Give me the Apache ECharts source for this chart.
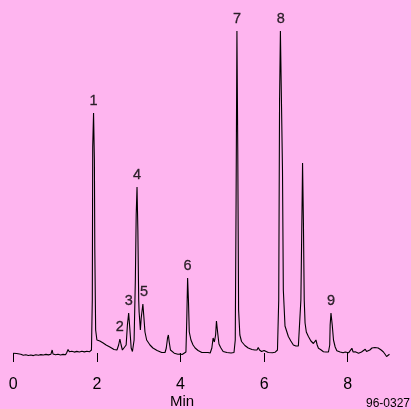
<!DOCTYPE html>
<html>
<head>
<meta charset="utf-8">
<script src="https://cdn.jsdelivr.net/npm/echarts@6/dist/echarts.min.js"></script>
<style>
html,body{margin:0;padding:0;background:#feb5ef;}
#c{width:411px;height:409px;}
</style>
</head>
<body>
<div id="c"></div>
<script>
// Retention time (min)
const times = [
0.00,0.04,0.08,0.12,0.18,0.24,0.30,0.36,0.42,0.48,0.54,0.60,0.66,0.72,0.78,0.84,0.90,0.93,0.95,1.01,
1.07,1.13,1.19,1.25,1.28,1.31,1.34,1.40,1.46,1.52,1.58,1.64,1.70,1.76,1.82,1.86,1.87,
1.89,1.90,1.92,1.94,1.95,1.97,2.00,2.07,2.15,2.22,2.31,2.41,2.48,2.52,2.55,2.58,2.61,2.65,2.70,2.73,2.76,
2.79,2.82,2.85,2.89,2.92,2.94,2.96,2.98,3.00,3.01,3.04,3.06,3.10,3.12,3.15,3.19,3.27,3.34,3.44,3.55,3.63,
3.66,3.69,3.71,3.73,3.76,
3.80,3.85,3.89,3.94,3.99,4.04,4.08,4.13,
4.15,4.17,4.19,4.21,4.25,4.30,4.35,4.42,4.51,4.59,4.63,4.66,4.71,4.75,4.78,4.81,4.84,4.86,4.89,4.92,4.96,
5.02,5.11,5.21,5.28,5.31,5.33,5.35,5.37,5.39,5.42,5.46,5.54,5.62,5.71,5.78,5.83,5.86,5.89,
5.94,6.00,6.05,6.10,6.14,6.20,6.26,6.32,
6.35,6.37,6.39,6.42,6.44,6.46,6.50,6.58,6.64,6.70,6.76,6.82,6.86,6.88,6.91,6.92,6.94,6.96,6.98,7.01,7.06,
7.12,7.18,7.22,7.24,7.27,7.30,7.35,7.42,7.48,7.54,7.57,7.58,7.60,7.63,7.66,7.70,7.74,
7.78,7.82,7.86,7.89,7.94,7.98,8.02,8.06,8.10,8.13,8.18,8.22,8.26,8.29,8.33,8.37,8.42,8.45,8.49,
8.53,8.58,8.65,8.73,8.80,8.85,8.89,8.93,8.97,9.00
];
// Detector signal (arbitrary units, baseline ~0)
const signal = [
-0.3,-0.8,-0.5,-1.5,-1.2,-2.2,-1.8,-2.5,-2.0,-2.6,-1.8,-2.3,-1.6,-2.0,-1.4,-1.9,-1.2,3,-1.0,-1.8,
-1.3,-2.0,-1.4,-1.8,0.5,3.5,1.2,1.8,0.9,1.6,1.0,1.8,1.1,1.7,1.2,2.0,3,
53,206,240,193,103,23,13,12,10,8,6,3.5,3,8,14,8,3,1.5,8,28,40,
23,5,1.5,13,73,138,166,123,53,41,23,35,49,38,21,13,8,5,2.5,0.5,0.5,
5,15,18,11,3,
1,-0.2,-0.5,-1.2,-1,-1.5,-0.5,1,
33,75,53,21,13,8,5,2.5,0.5,0.5,2.5,0.5,0,5,15,11,18,32,20,9,5.5,
1.5,0.5,0,0.5,13,153,322,203,43,18,11.5,7.5,5,3.5,3,3,5.5,3,
1.5,2.5,1.5,0.5,1,0.3,0.7,3,
53,253,322,322,183,63,27,16.5,12,8,7,7,9,53,153,190,133,53,30,21,16.5,
12,9.5,9,13,8,4.7,3.5,1.3,1,1,8,28,40,28,13,6,2.3,
1.5,1,0.2,0.3,1.0,0.5,0.2,1,4.7,1,1.2,0.3,-0.2,0.5,1.0,1.5,3.7,1.5,1,
3,5,5.5,5,3,1.3,-1,-3.5,-2.5,-1.3
];
// Peak labels
const peakNames = ['1','2','3','4','5','6','7','8','9'];
const peakTimes = [1.92,2.55,2.76,2.96,3.13,4.17,5.35,6.40,7.60];
const peakTops  = [240,14,40,166,49,75,322,322,40];
// Axis ticks
const tickValues = [0,2,4,6,8];

const chart = echarts.init(document.getElementById('c'), null, {renderer:'canvas'});
const FONT = '"Liberation Sans", Arial, sans-serif';
chart.setOption({
  backgroundColor: '#feb5ef',
  animation: false,
  grid: {left: 13.3, right: 21.5, top: 31, bottom: 45.5},
  xAxis: {
    type: 'value', min: 0, max: 9,
    axisLine: {show: false},
    axisTick: {show: true, length: 9, lineStyle: {color: '#000', width: 1}, customValues: tickValues},
    axisLabel: {margin: 13, fontSize: 16, color: '#000', fontFamily: FONT, customValues: tickValues},
    splitLine: {show: false}
  },
  yAxis: {
    type: 'value', min: -10.5, max: 322, show: false, splitLine: {show: false}
  },
  graphic: [
    {type: 'text', left: 170, top: 394, style: {text: 'Min', fontSize: 15, fill: '#000', fontFamily: FONT}},
    {type: 'text', right: 1, top: 398, style: {text: '96-0327', fontSize: 12, fill: '#000', fontFamily: FONT}}
  ],
  series: [
    {
      type: 'line',
      data: times.map((t, i) => [t, signal[i]]),
      showSymbol: false,
      clip: false,
      lineStyle: {color: '#000', width: 1.1},
      silent: true
    },
    {
      type: 'scatter',
      data: peakTimes.map((t, i) => ({value: [t, peakTops[i]], name: peakNames[i]})),
      symbolSize: 0,
      silent: true,
      label: {show: true, position: 'top', distance: 4.5, formatter: p => p.name,
              fontSize: 14.5, color: '#000', fontFamily: FONT,
              textBorderColor: '#000', textBorderWidth: 0.3}
    }
  ]
});
</script>
</body>
</html>
